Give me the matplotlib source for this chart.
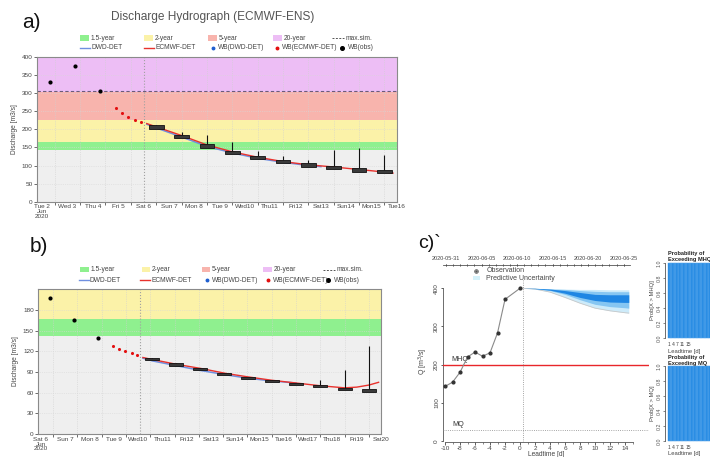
import matplotlib
matplotlib.use('Agg')
import matplotlib.pyplot as plt
from matplotlib.patches import Rectangle

plt.rcParams['font.family'] = ['Liberation Sans', 'DejaVu Sans']
plt.rcParams['axes.unicode_minus'] = False

W, H = 710, 457

# ---------------- data: panel a ----------------
a_day_labels = ['Tue 2\nJun\n2020', 'Wed 3', 'Thu 4', 'Fri 5', 'Sat 6', 'Sun 7', 'Mon 8', 'Tue 9',
                'Wed10', 'Thu11', 'Fri12', 'Sat13', 'Sun14', 'Mon15', 'Tue16']
a_obs_day = [0.3, 1.3, 2.3]
a_obs_q = [332, 375, 307]
a_wb_day = [2.9, 3.15, 3.4, 3.65, 3.9]
a_wb_q = [259, 244, 234, 226, 220]
a_ecmwf_day = [4.13, 4.5, 5.5, 6.5, 7.5, 8.5, 9.5, 10.5, 11.5, 12.5, 13.5, 13.84]
a_ecmwf_q = [216, 207, 183, 157, 138, 123, 111, 102, 96, 89, 82, 79]
a_dwd_day = [4.13, 4.5, 5.5, 6.5, 7.5, 8.5, 9.5, 10.5, 11.0]
a_dwd_q = [214, 204, 179, 153, 135, 120, 109, 100, 97]
a_box_day = [4.5, 5.5, 6.5, 7.5, 8.5, 9.5, 10.5, 11.5, 12.5, 13.5]
a_box_med = [206, 180, 154, 136, 122, 111, 102, 95, 88, 84]
a_box_top = [209, 194, 184, 164, 140, 125, 114, 142, 148, 128]
a_thresholds = [143, 166, 225, 303]   # 1.5-, 2-, 5-, 20-year
a_maxsim = 307
a_fc_start = 4.02

# ---------------- data: panel b ----------------
b_day_labels = ['Sat 6\nJun\n2020', 'Sun 7', 'Mon 8', 'Tue 9', 'Wed10', 'Thu11', 'Fri12', 'Sat13',
                'Sun14', 'Mon15', 'Tue16', 'Wed17', 'Thu18', 'Fri19', 'Sat20']
b_obs_day = [0.37, 1.37, 2.37]
b_obs_q = [197, 166, 140]
b_wb_day = [2.98, 3.22, 3.47, 3.73, 3.96]
b_wb_q = [128, 124, 120, 117, 114]
b_ecmwf_day = [4.2, 4.6, 5.6, 6.6, 7.6, 8.5, 9.5, 10.5, 11.5, 12.5, 13.0, 13.5, 13.9]
b_ecmwf_q = [111, 108, 101, 95, 88, 83, 78, 74, 70, 67, 68, 71, 75]
b_dwd_day = [4.2, 4.6, 5.6, 6.6, 7.6, 8.5, 9.5, 10.5]
b_dwd_q = [110, 106, 99, 92, 86, 81, 77, 74]
b_box_day = [4.57, 5.57, 6.56, 7.55, 8.53, 9.51, 10.5, 11.5, 12.5, 13.49]
b_box_med = [108.4, 100.7, 93.9, 87.6, 81.8, 76.5, 72.6, 69.3, 65.4, 63.2]
b_box_half = [1.6, 1.6, 1.6, 1.6, 1.6, 1.6, 1.6, 1.6, 1.6, 2.6]
b_box_top = [109.5, 102, 95, 89, 83, 77.5, 74, 79, 93.5, 128]
b_thresholds = [142, 167, 225, 303]
b_fc_start = 4.07

# ---------------- data: panel c ----------------
c_obs_day = [-10, -9, -8, -7, -6, -5, -4, -3, -2, 0]
c_obs_q = [143, 154, 180, 220, 233, 222, 231, 283, 371, 400]
c_fan_day = [0.36, 2, 4, 6, 8, 10, 12, 14, 14.5]
c_q_lo = [400, 398, 390, 376, 361, 348, 341, 336, 335]
c_q_hi = [400, 400, 399, 398, 397, 397, 396, 396, 396]
c_mid_lo = [400, 399, 394, 384, 370, 358, 352, 349, 348]
c_mid_hi = [400, 400, 398, 397, 394, 392, 391, 391, 391]
c_dark_lo = [400, 399, 395, 387, 376, 368, 364, 363, 363]
c_dark_hi = [400, 400, 398, 394, 389, 384, 383, 383, 383]
c_mhq = 200
c_mq = 30
c_top_dates = ['2020-05-31', '2020-06-05', '2020-06-10', '2020-06-15', '2020-06-20', '2020-06-25']
c_top_offsets = [-10, -5, 0, 5, 10, 15]

p_lead = [1, 2, 3, 4, 5, 6, 7, 8, 9, 10, 11, 12, 13, 14, 15, 16, 17, 18, 19, 20,
          21, 22, 23, 24, 25, 26, 27, 28, 29, 30, 31, 32]
p_mhq = [1.0, 1.0, 1.0, 1.0, 1.0, 1.0, 1.0, 1.0, 1.0, 1.0, 1.0, 1.0, 1.0, 1.0, 1.0, 1.0,
         1.0, 1.0, 1.0, 1.0, 1.0, 1.0, 1.0, 1.0, 1.0, 1.0, 1.0, 1.0, 1.0, 1.0, 1.0, 1.0]
p_mq = [1.0, 1.0, 1.0, 1.0, 1.0, 1.0, 1.0, 1.0, 1.0, 1.0, 1.0, 1.0, 1.0, 1.0, 1.0, 1.0,
        1.0, 1.0, 1.0, 1.0, 1.0, 1.0, 1.0, 1.0, 1.0, 1.0, 1.0, 1.0, 1.0, 1.0, 1.0, 1.0]
p_ticks = [1, 4, 7, 11, 15]

# ---------------- styles ----------------
C_GRAY = '#efefef'
C_GREEN = '#8ff08f'
C_YELLOW = '#fbf2a8'
C_SALMON = '#f8b4ad'
C_PURPLE = '#edbef5'
C_RED = '#e8322d'
C_BLUE = '#6f8fe0'
TXT = '#444444'

fig = plt.figure(figsize=(W / 100, H / 100), dpi=100)


def px_axes(l, t, r, b):
    return fig.add_axes([l / W, 1 - b / H, (r - l) / W, (b - t) / H])


def hydro(ax, labels, thr, ymax, yticks, obs_d, obs_q, wb_d, wb_q, ec_d, ec_q, dw_d, dw_q,
          bx_d, bx_m, bx_h, bx_t, fc, xl, maxsim=None):
    ax.set_xlim(*xl)
    ax.set_ylim(0, ymax)
    bands = [(0, thr[0], C_GRAY), (thr[0], thr[1], C_GREEN), (thr[1], thr[2], C_YELLOW),
             (thr[2], thr[3], C_SALMON), (thr[3], ymax + 100, C_PURPLE)]
    for lo, hi, c in bands:
        ax.axhspan(lo, hi, color=c, lw=0, zorder=0)
    if maxsim is not None:
        ax.axhline(maxsim, color='#6b5b7b', lw=0.8, ls=(0, (3, 2)), zorder=2)
    ax.axvline(fc, color='#a0a0a0', lw=0.8, ls=':', zorder=1)
    ax.set_xticks(range(len(labels)))
    ax.set_xticklabels(labels, fontsize=4.6, color=TXT, linespacing=0.95, va='top')
    ax.set_xticks([i + 0.5 for i in range(len(labels) - 1)], minor=True)
    ax.tick_params(axis='x', which='major', length=0, pad=2)
    ax.tick_params(axis='x', which='minor', length=2.5, width=0.6, color='#555')
    ax.set_yticks(yticks)
    ax.set_yticklabels([str(v) for v in yticks], fontsize=4.6, color=TXT)
    ax.tick_params(axis='y', length=2, width=0.6, pad=1, color='#555')
    ax.grid(True, which='minor', axis='x', color='#d0d0d0', lw=0.5, ls=':', zorder=0.5)
    ax.grid(True, which='major', axis='y', color='#d8d8d8', lw=0.5, ls=':', zorder=0.5)
    ax.set_axisbelow(True)
    for s in ax.spines.values():
        s.set_color('#8a8a8a')
        s.set_linewidth(0.8)
    ax.plot(dw_d, dw_q, color=C_BLUE, lw=1.1, zorder=3)
    ax.plot(ec_d, ec_q, color=C_RED, lw=1.0, zorder=3.5)
    for d, m, h, t in zip(bx_d, bx_m, bx_h, bx_t):
        ax.vlines(d, m + h, t, color='#111', lw=0.8, zorder=4)
        ax.add_patch(Rectangle((d - 0.29, m - h), 0.58, 2 * h, facecolor='#3a3a3a',
                               edgecolor='#111', lw=0.6, zorder=4.5))
    ax.scatter(wb_d, wb_q, s=5, color='#e31010', zorder=5, lw=0)
    ax.scatter(obs_d, obs_q, s=9, color='black', zorder=5, lw=0)


# panel a
axa = px_axes(37, 57, 397, 201.7)
hydro(axa, a_day_labels, a_thresholds, 400, [0, 50, 100, 150, 200, 250, 300, 350, 400],
      a_obs_day, a_obs_q, a_wb_day, a_wb_q, a_ecmwf_day, a_ecmwf_q, a_dwd_day, a_dwd_q,
      a_box_day, a_box_med, [5] * 10, a_box_top, a_fc_start, (-0.2, 14.0), maxsim=a_maxsim)
axa.set_ylabel('Discharge [m3/s]', fontsize=4.8, color=TXT, labelpad=3)

# panel b
axb = px_axes(38, 289, 381, 434)
hydro(axb, b_day_labels, b_thresholds, 210.4, [0, 30, 60, 90, 120, 150, 180],
      b_obs_day, b_obs_q, b_wb_day, b_wb_q, b_ecmwf_day, b_ecmwf_q, b_dwd_day, b_dwd_q,
      b_box_day, b_box_med, b_box_half, b_box_top, b_fc_start, (-0.12, 14.0))
axb.set_ylabel('Discharge [m3/s]', fontsize=4.8, color=TXT, labelpad=3)

# panel c
axc = px_axes(443, 280, 649, 442)
axc.set_xlim(-10.27, 17.2)
axc.set_ylim(-2.6, 421.7)
axc.fill_between(c_fan_day, c_q_lo, c_q_hi, color='#cdebfa', lw=0, zorder=1)
axc.plot(c_fan_day, c_q_lo, color='#c8c8c8', lw=0.6, zorder=1.2)
axc.fill_between(c_fan_day, c_mid_lo, c_mid_hi, color='#86c6f2', lw=0, zorder=1.5)
axc.fill_between(c_fan_day, c_dark_lo, c_dark_hi, color='#1f86e3', lw=0, zorder=2)
axc.axhline(c_mhq, color='#e8262a', lw=1.0, zorder=3)
axc.axhline(c_mq, color='#888888', lw=0.6, ls=':', zorder=3)
axc.axvline(c_fan_day[0], color='#888888', lw=0.6, ls=':', zorder=3)
axc.plot(c_obs_day, c_obs_q, color='#8a8a8a', lw=0.8, zorder=4)
axc.plot(c_obs_day, c_obs_q, 'o', ms=2.0, color='#333333', zorder=5)
axc.text(-9.2, c_mhq + 4, 'MHQ', fontsize=5.2, color='#333', va='bottom')
axc.text(-9.0, c_mq + 4, 'MQ', fontsize=5.2, color='#333', va='bottom')
for s in ['top', 'right']:
    axc.spines[s].set_visible(False)
axc.spines['left'].set_bounds(0, 400)
axc.spines['bottom'].set_bounds(-10, 15)
for s in ['left', 'bottom']:
    axc.spines[s].set_color('#555')
    axc.spines[s].set_linewidth(0.6)
axc.set_xticks(list(range(-10, 15, 2)))
axc.set_xticks(list(range(-10, 16)), minor=True)
axc.set_yticks([0, 100, 200, 300, 400])
axc.tick_params(axis='x', which='major', labelsize=4.6, length=1.8, width=0.6, pad=0.8, colors='#444')
axc.tick_params(axis='x', which='minor', length=1.2, width=0.5, color='#555')
axc.tick_params(axis='y', labelsize=4.6, length=1.8, width=0.6, pad=1, colors='#444', labelrotation=90)
for t in axc.get_yticklabels():
    t.set_va('center')
axc.set_xlabel('Leadtime [d]', fontsize=4.8, color='#444', labelpad=0.5)
axc.set_ylabel('Q [m$^3$/s]', fontsize=5, color='#444', labelpad=3)

# top date axis of panel c
axt = fig.add_axes([443 / W, 1 - 265 / H, 187 / W, 0.0005])
axt.set_xlim(-10.42, 15.9)
axt.set_ylim(0, 1)
for s in ['left', 'right', 'bottom']:
    axt.spines[s].set_visible(False)
axt.spines['top'].set_color('#555')
axt.spines['top'].set_linewidth(0.6)
axt.xaxis.set_ticks_position('top')
axt.set_xticks(c_top_offsets)
axt.set_xticklabels(c_top_dates, fontsize=4.0, color='#444')
axt.set_xticks(list(range(-10, 16)), minor=True)
axt.tick_params(axis='x', which='major', length=2, width=0.6, pad=1.5, direction='inout')
axt.tick_params(axis='x', which='minor', length=1.5, width=0.5, direction='inout')
axt.set_yticks([])
axt.patch.set_alpha(0)

# probability bar panels
def prob_panel(t, b, vals, ylab):
    ext = 0.04 * (b - t)
    ax = px_axes(665, t - ext, 735, b + ext)
    ax.set_xlim(-1.94, 49.5)
    ax.set_ylim(-0.04, 1.04)
    ax.bar(p_lead, vals, width=1.0, color='#1c85e2', edgecolor='#58a6ec', lw=0.35)
    for s in ['top', 'right', 'bottom']:
        ax.spines[s].set_visible(False)
    ax.spines['left'].set_bounds(0, 1)
    ax.spines['left'].set_color('#555')
    ax.spines['left'].set_linewidth(0.6)
    ax.set_yticks([0, 0.2, 0.4, 0.6, 0.8, 1.0])
    ax.set_yticklabels(['0.0', '0.2', '0.4', '0.6', '0.8', '1.0'])
    ax.tick_params(axis='y', labelsize=3.8, length=1.5, width=0.5, pad=0.8, colors='#555', labelrotation=90)
    for tl in ax.get_yticklabels():
        tl.set_va('center')
    ax.set_xticks(p_ticks)
    ax.tick_params(axis='x', labelsize=3.6, length=0, pad=1, colors='#444')
    ax.set_xlabel('Leadtime [d]', fontsize=4.2, color='#444', labelpad=0.8)
    ax.xaxis.label.set_x((684 - 665) / 70)
    ax.set_ylabel(ylab, fontsize=4.2, color='#444', labelpad=1.2)
    return ax

prob_panel(263, 338, p_mhq, 'Prob[X > MHQ]')
prob_panel(366, 441, p_mq, 'Prob[X > MQ]')

# ---------------- overlay for labels and legends ----------------
ov = fig.add_axes([0, 0, 1, 1])
ov.set_xlim(0, W)
ov.set_ylim(H, 0)
ov.axis('off')
ov.patch.set_alpha(0)

ov.text(22, 23, 'a)', fontsize=15, color='#111', va='center', ha='left')
ov.text(30, 246, 'b)', fontsize=15, color='#111', va='center', ha='left')
ov.text(418, 243, 'c)`', fontsize=14, color='#111', va='center', ha='left')
ov.text(213, 17, 'Discharge Hydrograph (ECMWF-ENS)', fontsize=8.6, color='#555',
        ha='center', va='center')

def legend(y1, y2, cols1, cols2):
    fs = 4.8
    # row 1
    for (x0, c, lab) in zip(cols1[:4], [C_GREEN, C_YELLOW, C_SALMON, C_PURPLE],
                            ['1.5-year', '2-year', '5-year', '20-year']):
        ov.add_patch(Rectangle((x0, y1 - 2.6), 8.5, 5.2, color=c, lw=0))
        ov.text(x0 + 10.5, y1, lab, fontsize=fs, color=TXT, va='center', ha='left')
    x0 = cols1[4]
    ov.plot([x0, x0 + 12], [y1, y1], color='#555', lw=0.7, ls=(0, (2, 1.5)))
    ov.text(x0 + 14, y1, 'max.sim.', fontsize=fs, color=TXT, va='center', ha='left')
    # row 2
    xa, xb, xc, xd, xe = cols2
    ov.plot([xa, xa + 10], [y2, y2], color=C_BLUE, lw=1.0)
    ov.text(xa + 11, y2, 'DWD-DET', fontsize=fs, color=TXT, va='center', ha='left')
    ov.plot([xb, xb + 10], [y2, y2], color=C_RED, lw=1.0)
    ov.text(xb + 11, y2, 'ECMWF-DET', fontsize=fs, color=TXT, va='center', ha='left')
    ov.plot([xc], [y2], 'o', ms=1.8, color='#1f5fd0')
    ov.text(xc + 4.5, y2, 'WB(DWD-DET)', fontsize=fs, color=TXT, va='center', ha='left')
    ov.plot([xd], [y2], 'o', ms=1.8, color='#e31010')
    ov.text(xd + 4.5, y2, 'WB(ECMWF-DET)', fontsize=fs, color=TXT, va='center', ha='left')
    ov.plot([xe], [y2], 'o', ms=2.6, color='black')
    ov.text(xe + 5.5, y2, 'WB(obs)', fontsize=fs, color=TXT, va='center', ha='left')

legend(38, 47.5, [80, 144, 208, 273, 332], [80, 144, 213, 277, 342])
legend(269.5, 280, [80, 141.5, 201.5, 263, 323], [79, 140, 207, 268, 328])

# panel c legend
ov.plot([476], [270.8], 'o', ms=2.6, mfc='none', mec='#555', mew=0.6)
ov.plot([476], [270.8], 'o', ms=0.8, color='#555')
ov.add_patch(Rectangle((472.5, 275.8), 7, 4.5, color='#d6f2fb', lw=0))
ov.text(486.5, 270.8, 'Observation', fontsize=5.0, color='#444', va='center', ha='left')
ov.text(486.5, 278.2, 'Predictive Uncertainty', fontsize=5.0, color='#444', va='center', ha='left')

# titles of probability panels
for y0, lab in [(254, 'Probability of'), (259.5, 'Exceeding MHQ'),
                (357.5, 'Probability of'), (363, 'Exceeding MQ')]:
    ov.text(667.5, y0, lab, fontsize=4.1, fontweight='bold', color='#222', ha='left', va='center')

fig.savefig('out.png', dpi=100)
